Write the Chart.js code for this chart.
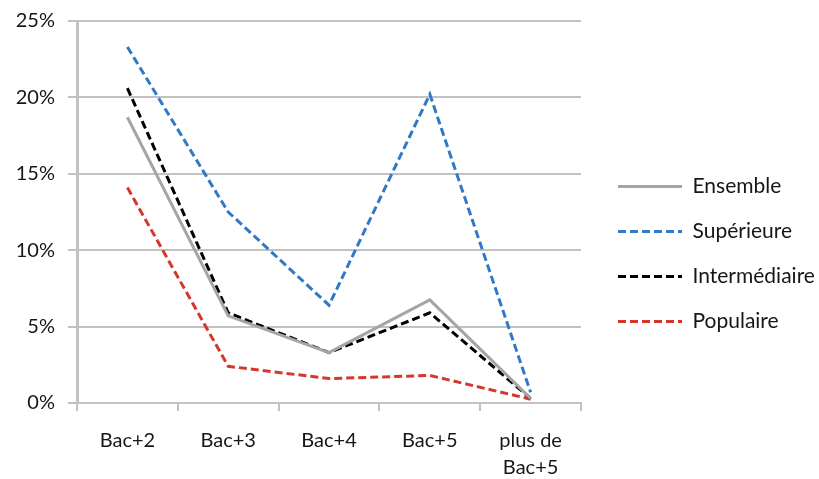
<!DOCTYPE html>
<html>
<head>
<meta charset="utf-8">
<script src="https://cdn.jsdelivr.net/npm/chart.js@4.4.1/dist/chart.umd.min.js"></script>
<style>
  html, body { margin: 0; padding: 0; background: #ffffff; }
  #wrap { width: 819px; height: 479px; position: relative; }
</style>
</head>
<body>
<div id="wrap"><canvas id="c" width="819" height="479"></canvas></div>
<script>
// Niveaux de diplôme (axe horizontal)
const categories = ['Bac+2', 'Bac+3', 'Bac+4', 'Bac+5', ['plus de', 'Bac+5']];

// Parts par origine sociale, en %
const ensemble      = [18.7, 5.7, 3.3, 6.75, 0.3];
const superieure    = [23.3, 12.5, 6.4, 20.2, 0.7];
const intermediaire = [20.6, 5.9, 3.3, 5.9, 0.3];
const populaire     = [14.1, 2.4, 1.6, 1.8, 0.25];

// Graduations de l'axe vertical
const yTicks = [0, 5, 10, 15, 20, 25];

const fontFamily = 'Lato, "Open Sans", sans-serif';
const textColor = '#161616';
const gridColor = '#c2c2c2';

function serie(label, data, color, dash) {
  return {
    label: label,
    data: data,
    borderColor: color,
    backgroundColor: 'rgba(0,0,0,0)',
    borderWidth: 3,
    borderDash: dash,
    pointRadius: 0,
    pointHoverRadius: 0,
    tension: 0,
    fill: false
  };
}

new Chart(document.getElementById('c'), {
  type: 'line',
  data: {
    labels: categories,
    datasets: [
      serie('Ensemble', ensemble, '#a5a5a5', []),
      serie('Supérieure', superieure, '#3178c6', [8, 4]),
      serie('Intermédiaire', intermediaire, '#000000', [8, 4]),
      serie('Populaire', populaire, '#d6372c', [8, 4])
    ]
  },
  options: {
    responsive: false,
    animation: false,
    layout: { padding: { top: 21, left: 8, right: 0, bottom: 0 } },
    plugins: {
      tooltip: { enabled: false },
      legend: {
        position: 'right',
        align: 'center',
        maxWidth: 225,
        title: { display: true, text: '', padding: 0, font: { size: 8, lineHeight: 1 } },
        labels: {
          boxWidth: 64,
          boxHeight: 0,
          padding: 24,
          color: textColor,
          font: { family: fontFamily, size: 21 }
        }
      }
    },
    scales: {
      x: {
        type: 'category',
        offset: true,
        afterFit: function (scale) { scale.height = 76; },
        grid: {
          offset: true,
          drawOnChartArea: false,
          drawTicks: true,
          tickLength: 8,
          color: gridColor,
          lineWidth: 2
        },
        border: { display: true, color: gridColor, width: 2 },
        ticks: {
          color: textColor,
          padding: 16,
          maxRotation: 0,
          font: { family: fontFamily, size: 20, lineHeight: 1.35 }
        }
      },
      y: {
        min: 0,
        max: 25,
        afterBuildTicks: function (scale) {
          scale.ticks = yTicks.map(function (v) { return { value: v }; });
        },
        afterFit: function (scale) {
          scale.width = 69;
          scale.paddingTop = 0;
        },
        grid: {
          color: gridColor,
          lineWidth: 2,
          drawTicks: true,
          tickLength: 9
        },
        border: { display: true, color: gridColor, width: 3 },
        ticks: {
          color: textColor,
          padding: 13,
          font: { family: fontFamily, size: 20, lineHeight: 1 },
          callback: function (v) { return v + '%'; }
        }
      },
      // marge vide entre la zone de tracé et la légende
      marge: {
        position: 'right',
        display: true,
        grid: { display: false },
        border: { display: false },
        ticks: { display: false },
        afterFit: function (scale) { scale.width = 13; }
      }
    }
  }
});
</script>
</body>
</html>
